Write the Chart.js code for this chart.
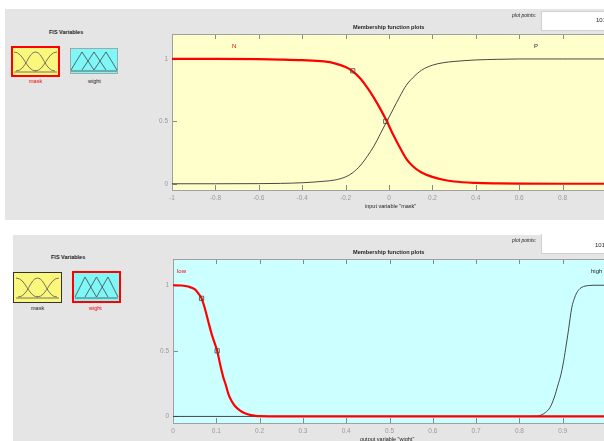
<!DOCTYPE html>
<html>
<head>
<meta charset="utf-8">
<script src="https://cdn.jsdelivr.net/npm/chart.js@4.4.1/dist/chart.umd.min.js"></script>
<style>
  html, body { margin: 0; padding: 0; background: #fff; }
  body { width: 604px; height: 441px; overflow: hidden; position: relative;
         font-family: "Liberation Sans", Arial, sans-serif; }
  .panel { position: absolute; background: #e5e5e5; }
  .txt { position: absolute; white-space: nowrap; color: #222; line-height: 1; z-index: 3; }
  .bold { font-weight: bold; }
  .box { position: absolute; background: #fff; border: 1px solid #d0d0d0; }
  canvas { position: absolute; z-index: 1; }
  svg { position: absolute; }
</style>
</head>
<body>

<div class="panel" style="left:5px; top:9px; width:620px; height:211px;"></div>
<div class="panel" style="left:13px; top:235px; width:620px; height:220px;"></div>

<!-- top panel texts -->
<div class="txt bold" style="left:49px; top:30px; font-size:5.5px;">FIS Variables</div>
<div class="txt" style="left:29px; top:79px; font-size:5.5px; color:#e00;">mask</div>
<div class="txt" style="left:88px; top:79px; font-size:5.5px;">wight</div>
<div class="txt bold" style="left:353px; top:25px; font-size:5.6px;">Membership function plots</div>
<div class="txt" style="left:512px; top:13px; font-size:5px; font-style:italic;">plot points:</div>
<div class="box" style="left:541px; top:11px; width:80px; height:18px;"></div>
<div class="txt" style="left:596px; top:17px; font-size:6px;">101</div>
<div class="txt" style="left:232px; top:43px; font-size:6px; color:#e00;">N</div>
<div class="txt" style="left:534px; top:43px; font-size:6px;">P</div>
<div class="txt" style="left:365px; top:204px; font-size:5.5px;">input variable "mask"</div>

<!-- bottom panel texts -->
<div class="txt bold" style="left:51px; top:255px; font-size:5.5px;">FIS Variables</div>
<div class="txt" style="left:31px; top:306px; font-size:5.5px;">mask</div>
<div class="txt" style="left:89px; top:306px; font-size:5.5px; color:#e00;">wight</div>
<div class="txt bold" style="left:353px; top:250px; font-size:5.6px;">Membership function plots</div>
<div class="txt" style="left:512px; top:238px; font-size:5px; font-style:italic;">plot points:</div>
<div class="box" style="left:541px; top:234px; width:80px; height:19px; border-top:none;"></div>
<div class="txt" style="left:595px; top:242px; font-size:6px;">101</div>
<div class="txt" style="left:177px; top:268px; font-size:6px; color:#e00;">low</div>
<div class="txt" style="left:591px; top:268px; font-size:6px;">high</div>
<div class="txt" style="left:360px; top:437px; font-size:5.5px;">output variable "wight"</div>

<!-- FIS variable icons -->
<svg style="left:11px; top:46px;" width="49" height="31" viewBox="0 0 49 31">
  <rect x="1" y="1" width="47" height="29" fill="#fbf77c" stroke="#ff0000" stroke-width="2"/>
  <g fill="none" stroke="#555" stroke-width="0.8">
    <path d="M3,6 C13,6 15,25 25,25"/>
    <path d="M5,25 C15,25 17,6 24.5,6 C32,6 34,25 44,25"/>
    <path d="M24,25 C34,25 36,6 46,6"/>
    <path d="M3,26 L46,26"/>
  </g>
</svg>
<svg style="left:70px; top:48px;" width="48" height="26" viewBox="0 0 48 26">
  <rect x="0.5" y="0.5" width="47" height="25" fill="#7ff7f7" stroke="#999" stroke-width="0.8"/>
  <g fill="none" stroke="#444" stroke-width="0.8">
    <path d="M1,22 L12,4 L24,22"/>
    <path d="M12,22 L24,4 L36,22"/>
    <path d="M24,22 L36,4 L47,22"/>
    <path d="M1,23 L47,23"/>
  </g>
</svg>

<svg style="left:13px; top:272px;" width="49" height="31" viewBox="0 0 49 31">
  <rect x="0.5" y="0.5" width="48" height="30" fill="#fbf77c" stroke="#333" stroke-width="1"/>
  <g fill="none" stroke="#555" stroke-width="0.8">
    <path d="M3,6 C13,6 15,25 25,25"/>
    <path d="M5,25 C15,25 17,6 24.5,6 C32,6 34,25 44,25"/>
    <path d="M24,25 C34,25 36,6 46,6"/>
    <path d="M3,26 L46,26"/>
  </g>
</svg>
<svg style="left:72px; top:271px;" width="49" height="32" viewBox="0 0 49 32">
  <rect x="1" y="1" width="47" height="30" fill="#7ff7f7" stroke="#ff0000" stroke-width="2"/>
  <g fill="none" stroke="#444" stroke-width="0.8">
    <path d="M3,26 L13,6 L24.5,26"/>
    <path d="M13,26 L24.5,6 L36,26"/>
    <path d="M24.5,26 L36,6 L46,26"/>
    <path d="M3,27 L46,27"/>
  </g>
</svg>

<canvas id="maskChart" width="490" height="200" style="left:130px; top:20px;"></canvas>
<canvas id="wightChart" width="490" height="200" style="left:130px; top:245px;"></canvas>

<script>
// input variable "mask"
const maskX = [-1, -0.8, -0.6, -0.5, -0.4, -0.3, -0.25, -0.2, -0.17, -0.13, -0.1, -0.07, -0.04, -0.01,
               0.02, 0.05, 0.08, 0.11, 0.15, 0.2, 0.25, 0.3, 0.4, 0.5, 0.6, 0.8, 1];
const maskN = [1, 1, 0.998, 0.995, 0.99, 0.98, 0.965, 0.935, 0.905, 0.84, 0.77, 0.69, 0.6, 0.5,
               0.39, 0.29, 0.2, 0.14, 0.09, 0.055, 0.032, 0.018, 0.007, 0.003, 0.001, 0, 0];
const maskP = [0, 0, 0.001, 0.003, 0.008, 0.02, 0.03, 0.055, 0.085, 0.15, 0.22, 0.3, 0.4, 0.5,
               0.6, 0.7, 0.79, 0.85, 0.91, 0.95, 0.97, 0.98, 0.992, 0.997, 1, 1, 1];
const maskMarkX = [-0.167, -0.015];
const maskMarkY = [0.905, 0.5];
const maskTicks = [-1, -0.8, -0.6, -0.4, -0.2, 0, 0.2, 0.4, 0.6, 0.8, 1];

// output variable "wight"
const lowX = [0, 0.02, 0.035, 0.05, 0.058, 0.066, 0.073, 0.081, 0.09, 0.102, 0.11, 0.116, 0.122, 0.128,
              0.135, 0.143, 0.155, 0.166, 0.18, 0.19, 0.2, 0.25, 0.5, 0.8, 1];
const lowY = [1, 0.998, 0.99, 0.97, 0.94, 0.9, 0.83, 0.73, 0.62, 0.5, 0.38, 0.3, 0.24, 0.17,
              0.12, 0.08, 0.045, 0.025, 0.01, 0.005, 0.002, 0, 0, 0, 0];
const highX = [0, 0.5, 0.8, 0.84, 0.86, 0.871, 0.88, 0.89, 0.896, 0.901, 0.907, 0.913, 0.921, 0.927,
               0.932, 0.94, 0.948, 0.96, 0.97, 1];
const highY = [0, 0, 0, 0.002, 0.03, 0.07, 0.14, 0.25, 0.32, 0.4, 0.52, 0.65, 0.83, 0.9,
               0.94, 0.975, 0.99, 0.998, 1, 1];
const wightMarkX = [0.066, 0.102];
const wightMarkY = [0.9, 0.5];
const wightTicks = [0, 0.1, 0.2, 0.3, 0.4, 0.5, 0.6, 0.7, 0.8, 0.9, 1];

const yTicks = [0, 0.5, 1];

const pts = (xs, ys) => xs.map((x, i) => ({ x: x, y: ys[i] }));

// fill the plot area and draw the inside tick marks like matlab does
const plotFrame = {
  id: 'plotFrame',
  beforeDatasetsDraw(chart, args, opts) {
    const { ctx, chartArea: a } = chart;
    ctx.save();
    ctx.fillStyle = opts.bg;
    ctx.fillRect(a.left, a.top, a.right - a.left, a.bottom - a.top);
    ctx.strokeStyle = '#8a8a8a';
    ctx.lineWidth = 1;
    ctx.beginPath();
    chart.scales.x.ticks.forEach(t => {
      const px = Math.round(chart.scales.x.getPixelForValue(t.value)) + 0.5;
      ctx.moveTo(px, a.bottom); ctx.lineTo(px, a.bottom - 5);
      ctx.moveTo(px, a.top); ctx.lineTo(px, a.top + 5);
    });
    chart.scales.y.ticks.forEach(t => {
      const py = Math.round(chart.scales.y.getPixelForValue(t.value)) + 0.5;
      ctx.moveTo(a.left, py); ctx.lineTo(a.left + 5, py);
    });
    ctx.stroke();
    ctx.strokeStyle = '#a0a0a0';
    ctx.strokeRect(a.left + 0.5, a.top + 0.5, a.right - a.left, a.bottom - a.top);
    ctx.restore();
  }
};

function makeChart(id, cfg) {
  return new Chart(document.getElementById(id), {
    type: 'line',
    data: {
      datasets: [
        { data: pts(cfg.markX, cfg.markY), showLine: false, pointStyle: 'rect',
          pointRadius: 3, pointBorderColor: '#444', pointBackgroundColor: 'rgba(0,0,0,0)',
          pointBorderWidth: 0.8 },
        { data: pts(cfg.redX, cfg.redY), borderColor: '#ff0000', borderWidth: 2.2,
          pointRadius: 0, cubicInterpolationMode: 'monotone' },
        { data: pts(cfg.blackX, cfg.blackY), borderColor: '#333333', borderWidth: 0.9,
          pointRadius: 0, cubicInterpolationMode: 'monotone' }
      ]
    },
    options: {
      responsive: false,
      animation: false,
      devicePixelRatio: 1,
      layout: { padding: { top: 14, right: 14, left: 0, bottom: 0 } },
      plugins: { legend: { display: false }, tooltip: { enabled: false },
                 plotFrame: { bg: cfg.bg } },
      scales: {
        x: {
          type: 'linear', min: cfg.min, max: cfg.max,
          afterBuildTicks: s => { s.ticks = cfg.ticks.map(v => ({ value: v })); },
          afterFit: s => { s.height = cfg.xh; },
          grid: { display: false, drawTicks: false },
          border: { display: false },
          ticks: { autoSkip: false, maxRotation: 0, padding: 4, color: '#999999',
                   font: { size: 6.5, family: 'Liberation Sans' },
                   callback: v => String(Math.round(v * 10) / 10) }
        },
        y: {
          min: -0.05, max: 1.2,
          afterBuildTicks: s => { s.ticks = yTicks.map(v => ({ value: v })); },
          afterFit: s => { s.width = cfg.yw; },
          grid: { display: false, drawTicks: false },
          border: { display: false },
          ticks: { padding: 4, color: '#999999', font: { size: 6.5, family: 'Liberation Sans' },
                   callback: v => String(v) }
        }
      }
    },
    plugins: [plotFrame]
  });
}

makeChart('maskChart', {
  redX: maskX, redY: maskN, blackX: maskX, blackY: maskP,
  markX: maskMarkX, markY: maskMarkY, ticks: maskTicks,
  min: -1, max: 1, bg: '#ffffcc', xh: 30, yw: 42
});

makeChart('wightChart', {
  redX: lowX, redY: lowY, blackX: highX, blackY: highY,
  markX: wightMarkX, markY: wightMarkY, ticks: wightTicks,
  min: 0, max: 1, bg: '#ccffff', xh: 22, yw: 43
});
</script>
</body>
</html>
